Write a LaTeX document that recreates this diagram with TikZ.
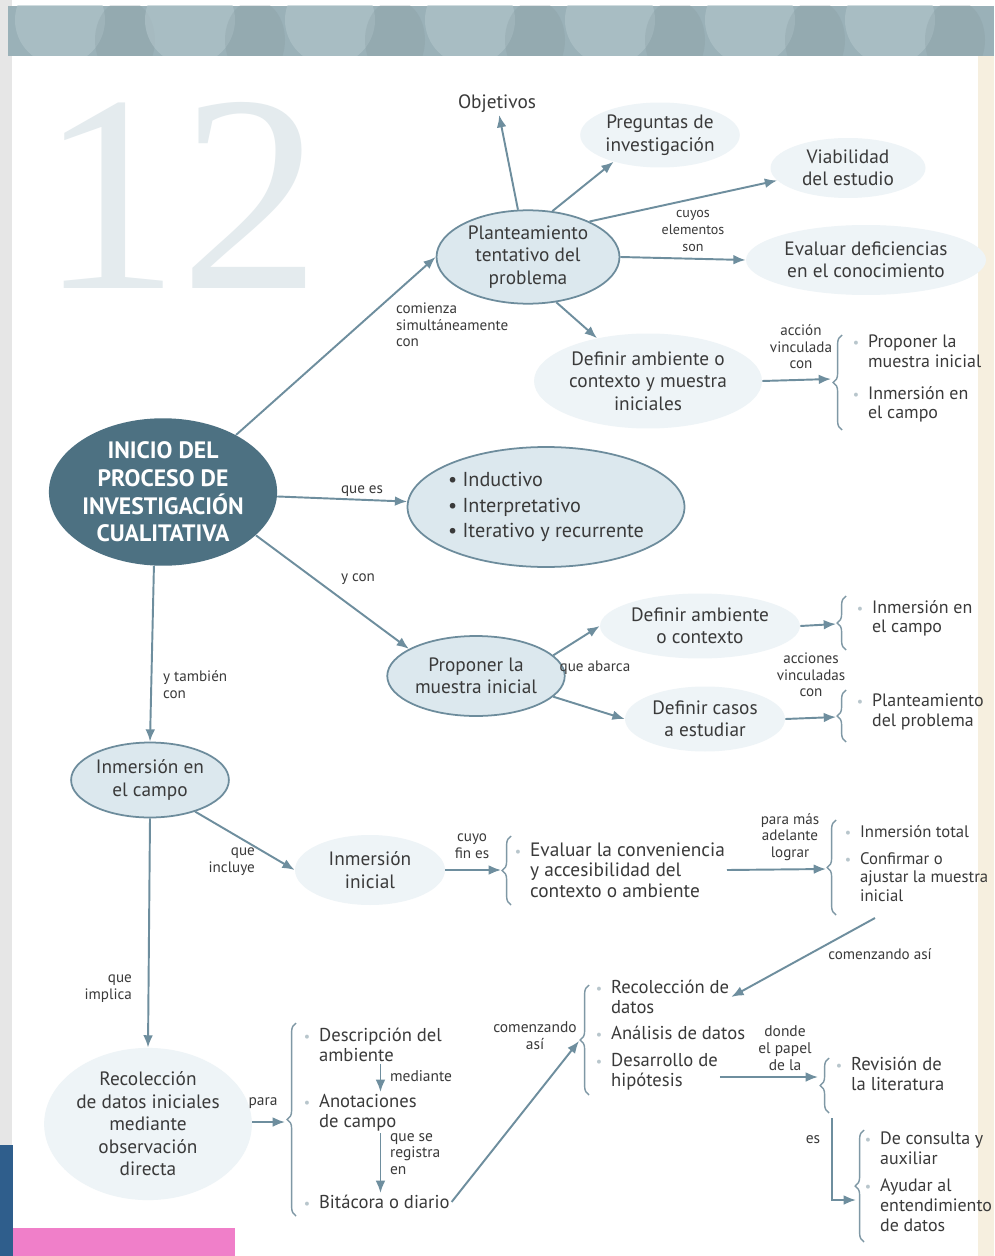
\documentclass[tikz,border=0pt]{standalone}
\usepackage{fontspec}
\setmainfont{PT Sans}
\newfontfamily\numfont{Liberation Serif}
\usetikzlibrary{shapes.geometric,arrows.meta,decorations.pathreplacing}
\definecolor{textc}{HTML}{3A3A3A}
\definecolor{arrowc}{HTML}{6E8E9E}
\definecolor{ellfill}{HTML}{DCE8EE}
\definecolor{ellbord}{HTML}{6D8C9C}
\definecolor{faint}{HTML}{EEF4F7}
\definecolor{maindark}{HTML}{4D7182}
\definecolor{bracec}{HTML}{7F98A5}
\definecolor{bulc}{HTML}{B8C6CC}
\definecolor{banner}{HTML}{9AB1B8}
\definecolor{bannerlt}{HTML}{B2C6CB}
\definecolor{numc}{HTML}{E4EBEE}
\definecolor{leftgray}{HTML}{E6E6E6}
\definecolor{bluebar}{HTML}{2F5E8C}
\definecolor{pinkbar}{HTML}{F07FC9}
\definecolor{cream}{HTML}{F6EFDF}
\newcommand{\bul}{\llap{\textcolor{bulc}{\fontsize{8}{8}\selectfont•}\hspace{5pt}}}
\begin{document}
\begin{tikzpicture}[x=0.02cm,y=-0.02cm,
  txt/.style={font=\fontsize{11}{12.8}\selectfont, text=textc, align=center, inner sep=1pt},
  item/.style={font=\fontsize{10.6}{11.4}\selectfont, text=textc, align=left, inner sep=1pt, anchor=north west},
  itemr/.style={item, font=\fontsize{10.2}{11.2}\selectfont},
  lbl/.style={font=\fontsize{8.6}{9.4}\selectfont, text=textc, align=center, inner sep=1pt},
  lblb/.style={font=\fontsize{8.8}{9.6}\selectfont, text=textc, align=center, inner sep=1pt},
  ell/.style={ellipse, draw=ellbord, fill=ellfill, line width=1pt, inner sep=0pt},
  blob/.style={ellipse, fill=faint, inner xsep=-14pt, inner ysep=-8pt},
  arr/.style={draw=arrowc, line width=1.1pt, -{Latex[length=7pt,width=5.5pt]}},
  brc/.style={draw=bracec, line width=0.8pt, decorate, decoration={brace, amplitude=5pt}},
]
\useasboundingbox (0,0) rectangle (994,1256);
\fill[white] (0,0) rectangle (994,1256);
% page decoration
\fill[leftgray] (0,0) rectangle (12,1145);
\fill[cream] (978,56) rectangle (994,1256);
\begin{scope}
\clip (8,6) rectangle (994,56);
\fill[banner] (8,6) rectangle (994,56);
\foreach \cx in {60,190,330,470,610,750,890}{
  \fill[bannerlt, opacity=0.6] (\cx,20) ellipse (45 and 45);
  \fill[banner!85!black, opacity=0.25] (\cx+65,40) ellipse (30 and 40);
}
\end{scope}
\fill[bluebar] (0,1145) rectangle (13,1256);
\fill[pinkbar] (13,1228) rectangle (235,1256);
\node[text=numc, font=\numfont\fontsize{160}{160}\selectfont, inner sep=0pt] (num) at (180,195) {12};

% ---------- nodes ----------
\node[ellipse, fill=maindark, text=white, font=\bfseries\fontsize{13.5}{15.8}\selectfont,
      align=center, inner sep=0pt, minimum width=4.3cm, minimum height=2.95cm] (main) at (163,492)
      {INICIO DEL\\PROCESO DE\\INVESTIGACIÓN\\CUALITATIVA};

\node[ell, txt, minimum width=3.66cm, minimum height=1.78cm] (plan) at (528,257)
      {Planteamiento\\tentativo del\\problema};
\node[txt] (obj) at (497,104) {Objetivos};
\node[blob, txt, minimum width=3.0cm, minimum height=1.3cm] (preg) at (660,135) {Preguntas de\\investigación};
\node[blob, txt, minimum width=3.1cm, minimum height=1.2cm] (viab) at (848,168) {Viabilidad\\del estudio};
\node[blob, txt, minimum width=4.8cm, minimum height=1.4cm] (eval) at (866,260) {Evaluar deficiencias\\en el conocimiento};
\node[blob, txt, minimum width=4.4cm, minimum height=1.9cm] (defctx) at (648,381) {Definir ambiente o\\contexto y muestra\\iniciales};
\node[itemr] (pa1) at (866,333) {\bul Proponer la\\muestra inicial};
\node[itemr] (pa2) at (866,384) {\bul Inmersión en\\el campo};
\coordinate (bAtop) at (842,335);
\coordinate (bAbot) at (842,430);
\coordinate (bAtip) at (831,379);

\node[ell, align=left, font=\fontsize{11.5}{14.3}\selectfont, text=textc,
      minimum width=5.45cm, minimum height=2.4cm] (ind) at (546,507)
      {• Inductivo\\• Interpretativo\\• Iterativo y recurrente};

\node[ell, txt, minimum width=3.0cm, minimum height=1.6cm] (prop) at (476,676) {Proponer la\\muestra inicial};
\node[blob, txt, minimum width=3.3cm, minimum height=1.3cm] (dac) at (700,626) {Definir ambiente\\o contexto};
\node[blob, txt, minimum width=3.2cm, minimum height=1.3cm] (dcas) at (705,719) {Definir casos\\a estudiar};
\node[itemr] (pb1) at (870,598) {\bul Inmersión en\\el campo};
\node[itemr] (pc1) at (870,692) {\bul Planteamiento\\del problema};
\coordinate (bBtop) at (846,596);
\coordinate (bBbot) at (846,650);
\coordinate (bBtip) at (836,624);
\coordinate (bCtop) at (846,690);
\coordinate (bCbot) at (846,742);
\coordinate (bCtip) at (836,717);

\node[ell, txt, minimum width=2.85cm, minimum height=1.5cm] (inmc) at (150,780) {Inmersión en\\el campo};
\node[blob, txt, minimum width=3.0cm, minimum height=1.4cm] (inmi) at (370,870) {Inmersión\\inicial};
\node[item, font=\fontsize{11}{11.6}\selectfont, anchor=west] (evc) at (528,870) {\bul Evaluar la conveniencia\\y accesibilidad del\\contexto o ambiente};
\coordinate (bDtop) at (511,836);
\coordinate (bDbot) at (511,905);
\coordinate (bDtip) at (501,870);
\node[item, font=\fontsize{9.5}{10.8}\selectfont] (it1) at (858,823) {\bul Inmersión total};
\node[item, font=\fontsize{9.5}{10.8}\selectfont] (it2) at (858,850) {\bul Confirmar o\\ajustar la muestra\\inicial};
\coordinate (bEtop) at (836,820);
\coordinate (bEbot) at (836,915);
\coordinate (bEtip) at (826,869);
\coordinate (csStart) at (875,918);

\node[blob, txt, minimum width=3.6cm, minimum height=3.0cm] (recobs) at (148,1124)
      {Recolección\\de datos iniciales\\mediante\\observación\\directa};
\node[item] (desc) at (317,1026) {\bul Descripción del\\ambiente};
\node[item] (anot) at (317,1092) {\bul Anotaciones\\de campo};
\node[item] (bita) at (317,1193) {\bul Bitácora o diario};
\coordinate (bFtop) at (296,1023);
\coordinate (bFbot) at (296,1216);
\coordinate (bFtip) at (285,1122);

\node[item] (reco) at (609,978) {\bul Recolección de\\datos};
\node[item] (anal) at (609,1024) {\bul Análisis de datos};
\node[item] (desa) at (609,1051) {\bul Desarrollo de\\hipótesis};
\coordinate (bGtop) at (589,985);
\coordinate (bGbot) at (589,1095);
\coordinate (bGtip) at (579,1041);

\node[item] (rev) at (849,1055) {\bul Revisión de\\la literatura};
\coordinate (bHtop) at (829,1058);
\coordinate (bHbot) at (829,1113);
\coordinate (bHtip) at (818,1077);
\coordinate (esStart) at (832,1118);

\node[itemr] (cons) at (878,1130) {\bul De consulta y\\auxiliar};
\node[itemr] (ayu) at (878,1177) {\bul Ayudar al\\entendimiento\\de datos};
\coordinate (bItop) at (864,1130);
\coordinate (bIbot) at (864,1242);
\coordinate (bItip) at (856,1200);

% ---------- braces ----------
\foreach \b in {A,B,C,D,E,F,G,H,I}{
  \draw[brc] (b\b bot) -- (b\b top);
}

% ---------- connectors ----------
\draw[arr] (plan.102) -- (obj);
\draw[arr] (plan.62) -- (preg.210);
\draw[arr] (plan.30) -- (viab.190);
\draw[arr] (plan.east) -- (eval.west);
\draw[arr] (plan.-58) -- (defctx.140);
\draw[arr] (defctx.east) -- (bAtip);
\draw[arr] (main.38) -- (plan.west);
\draw[arr] (main) -- (ind);
\draw[arr] (main.-25) -- (prop.158);
\draw[arr] (prop.15) -- (dac.west);
\draw[arr] (prop.-15) -- (dcas.west);
\draw[arr] (dac.east) -- (bBtip);
\draw[arr] (dcas.east) -- (bCtip);
\draw[arr] (main.-97) -- (inmc.north);
\draw[arr] (inmc.-35) -- (inmi.west);
\draw[arr] (inmi.east) -- (bDtip);
\draw[arr] (evc.east) -- (bEtip);
\draw[arr] (csStart) -- (reco.east);
\draw[arr] (inmc.south) -- (recobs.north);
\draw[arr] (recobs.east |- bFtip) -- (bFtip);
\draw[arr] (desc.south) -- (desc.south |- anot.north);
\draw[arr] (desc.south |- anot.south) -- (desc.south |- bita.north);
\draw[arr] (bita.east) -- (bGtip);
\draw[arr] (desa.east |- bHtip) -- (bHtip);
\draw[arr] (esStart) -- (esStart |- bItip) -- (bItip);

% ---------- labels ----------
\node[lbl, align=left, anchor=north west] (l1) at (394,301) {comienza\\simultáneamente\\con};
\node[lbl, font=\fontsize{8}{9.4}\selectfont] (l2) at (693,231) {cuyos\\elementos\\son};
\node[lbl] (l3) at (801,347) {acción\\vinculada\\con};
\node[lbl] (l4) at (362,491) {que es};
\node[lbl] (l5) at (358,579) {y con};
\node[lbl] (l6) at (595,668) {que abarca};
\node[lbl] (l7) at (811,675) {acciones\\vinculadas\\con};
\node[lbl, align=left, anchor=north west] (l8) at (161,669) {y también\\con};
\node[lbl, align=right, anchor=north east] (l9) at (257,846) {que\\incluye};
\node[lbl] (l10) at (472,846) {cuyo\\fin es};
\node[lbl] (l11) at (790,837) {para más\\adelante\\lograr};
\node[lbl] (l12) at (880,954) {comenzando así};
\node[lbl, align=right, anchor=north east] (l13) at (134,973) {que\\implica};
\node[lblb] (l14) at (263,1103) {para};
\node[lblb, align=left, anchor=west] (l15) at (388,1076) {mediante};
\node[lblb, align=left, anchor=north west] (l16) at (388,1131) {que se\\registra\\en};
\node[lblb] (l17) at (535,1036) {comenzando\\así};
\node[lblb] (l18) at (785,1048) {donde\\el papel\\de la};
\node[lblb] (l19) at (813,1140) {es};
\end{tikzpicture}
\end{document}
